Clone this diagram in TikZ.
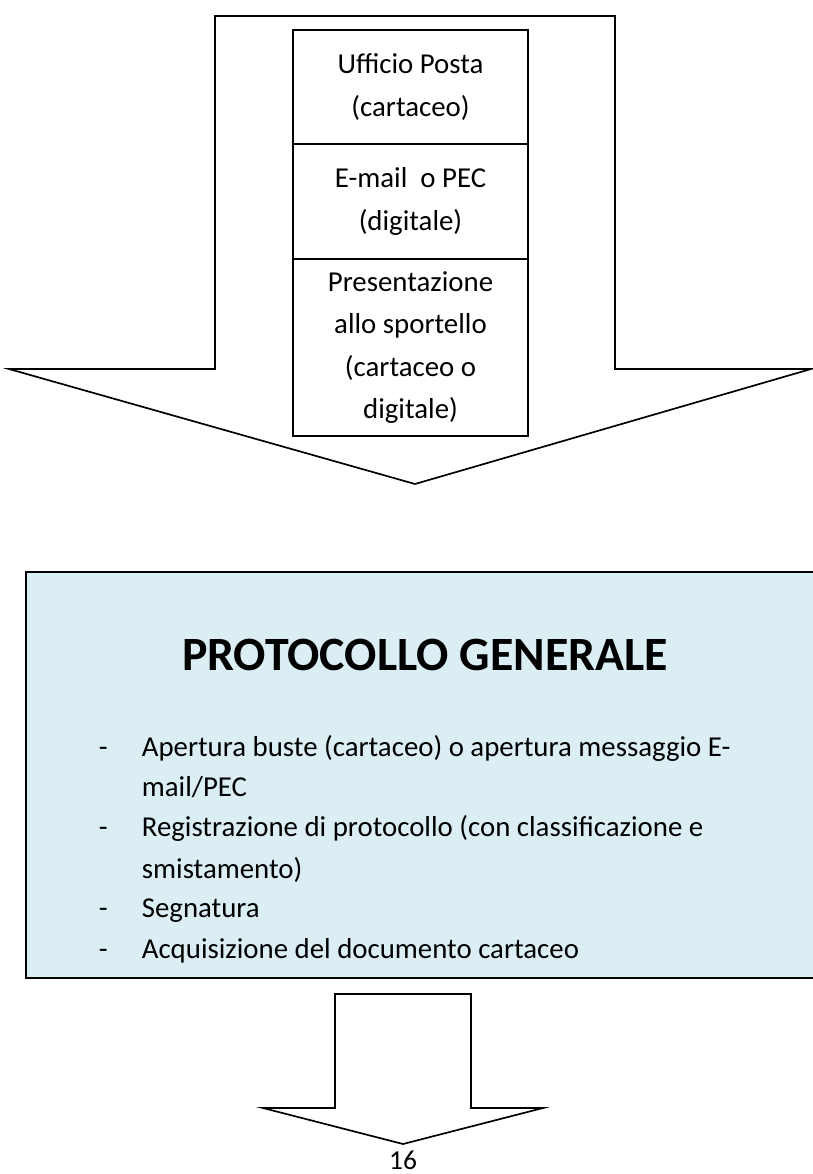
\documentclass[tikz,border=0pt]{standalone}
\usepackage{fontspec}
\setmainfont{Carlito}
\usepackage{xcolor}
\usetikzlibrary{positioning}
\definecolor{celeste}{HTML}{DAEEF3}

\begin{document}
\begin{tikzpicture}[x=0.025cm, y=-0.025cm, line width=1.2pt,
  canale/.style={draw, fill=white, outer sep=0pt, minimum width=5.875cm, align=center, font=\fontsize{20.5}{30}\selectfont},
  voce/.style={anchor=mid west, inner sep=0pt, font=\fontsize{20.5}{28}\selectfont}]
\useasboundingbox (0,0) rectangle (812,1174);

\draw (215,16) -- (615,16) -- (615,369) -- (811,369) -- (415,484) -- (9,369) -- (215,369) -- cycle;
\node[canale, minimum height=2.85cm] (posta) at (410.5,87) {Ufficio Posta\\(cartaceo)};
\node[canale, minimum height=2.875cm, below=0pt of posta] (pec) {E-mail\ \ o PEC\\(digitale)};
\node[canale, minimum height=4.425cm, below=0pt of pec] (sportello) {Presentazione\\allo sportello\\(cartaceo o\\digitale)};

\node[draw, fill=celeste, anchor=north west, minimum width=19.9cm, minimum height=10.15cm] (protocollo) at (25,571) {};
\node[font=\fontsize{34}{40}\selectfont\bfseries] (titolo) at (425,655) {PROTOCOLLO GENERALE};
\node[voce] (d1) at (98,753) {-};
\node[voce] (v1) at (141,753) {Apertura buste (cartaceo) o apertura messaggio E-};
\node[voce] (v1b) at (141,793) {mail/PEC};
\node[voce] (d2) at (98,833) {-};
\node[voce] (v2) at (141,833) {Registrazione di protocollo (con classificazione e};
\node[voce] (v2b) at (141,875) {smistamento)};
\node[voce] (d3) at (98,914) {-};
\node[voce] (v3) at (141,914) {Segnatura};
\node[voce] (d4) at (98,955) {-};
\node[voce] (v4) at (141,955) {Acquisizione del documento cartaceo};

\draw (335,994) -- (471,994) -- (471,1108) -- (543,1108) -- (403,1144) -- (263,1108) -- (335,1108) -- cycle;
\node[font=\fontsize{19.5}{24}\selectfont, inner sep=0pt] (pagina) at (403,1160) {16};
\end{tikzpicture}
\end{document}
